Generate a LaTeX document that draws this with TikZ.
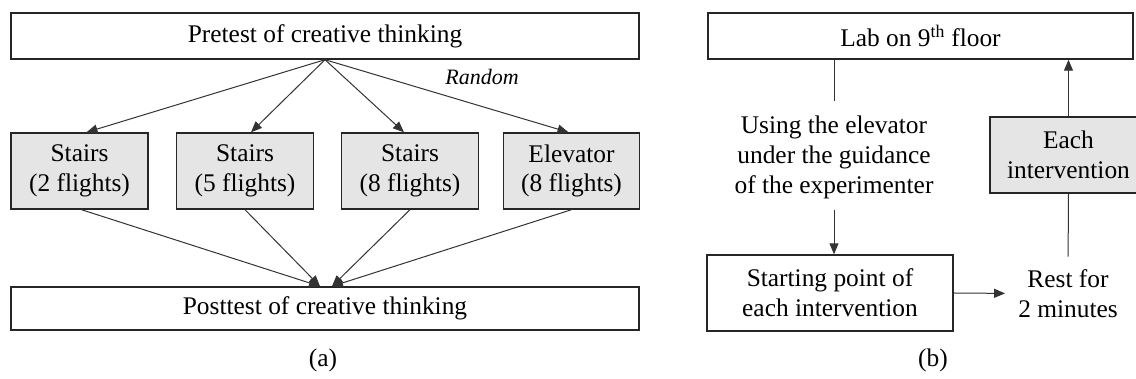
\documentclass[tikz,border=0pt]{standalone}
\usepackage{fontspec}
\setmainfont{Liberation Serif}
\usetikzlibrary{arrows.meta,calc}
\begin{document}
\begin{tikzpicture}[x=1pt,y=1pt,
  box/.style={draw=black!85, line width=1.4pt, rectangle, inner sep=0pt, align=center, font=\fontsize{25.4}{29.8}\selectfont},
  greybox/.style={box, fill=black!10},
  txt/.style={inner sep=0pt, align=center, font=\fontsize{25.4}{29.8}\selectfont},
  conn/.style={draw=black!80, line width=1pt},
  arr/.style={conn, -{Triangle[length=11pt,width=9pt]}}]
\useasboundingbox (0,0) rectangle (1136,379);
% ---------- panel (a)
\node[box, minimum width=628pt, minimum height=46pt] (pre) at (325,343) {Pretest of creative thinking};
\node[greybox, minimum width=137pt, minimum height=76pt] (s1) at (79.5,208) {Stairs\\(2 flights)};
\node[greybox, minimum width=137pt, minimum height=76pt] (s2) at (245,208) {Stairs\\(5 flights)};
\node[greybox, minimum width=137pt, minimum height=76pt] (s3) at (410,208) {Stairs\\(8 flights)};
\node[greybox, minimum width=136pt, minimum height=76pt] (s4) at (571.5,208) {Elevator\\(8 flights)};
\node[box, minimum width=628pt, minimum height=43pt] (post) at (325,70.5) {Posttest of creative thinking};
\node[txt] (la) at (323,19) {(a)};
\node[inner sep=0pt, anchor=base, font=\fontsize{22}{26}\selectfont\itshape] (rnd) at (482,294) {Random};
\draw[arr] (pre.south) -- ($(s1.north)+(7,0)$);
\draw[arr] (pre.south) -- ($(s2.north)+(6,0)$);
\draw[arr] (pre.south) -- ($(s3.north)+(-6,0)$);
\draw[arr] (pre.south) -- ($(s4.north)+(-3,0)$);
\draw[arr] ($(s1.south)+(2,0)$) -- ($(post.north)+(-5,0)$);
\draw[arr] (s2.south) -- ($(post.north)+(-5,0)$);
\draw[arr] (s3.south) -- ($(post.north)+(7,0)$);
\draw[arr] (s4.south) -- ($(post.north)+(7,0)$);
% ---------- panel (b)
\node[box, minimum width=425pt, minimum height=46pt] (lab) at (920.5,343) {Lab on 9\textsuperscript{th} floor};
\node[txt] (use) at (834,221.4) {Using the elevator\\under the guidance\\of the experimenter};
\node[box, minimum width=246pt, minimum height=76pt] (start) at (830,86) {Starting point of\\each intervention};
\node[txt] (rest) at (1068,85.6) {Rest for\\2 minutes};
\node[greybox, minimum width=157pt, minimum height=76pt] (each) at (1068.5,224) {Each\\intervention};
\node[txt] (lb) at (933,19) {(b)};
\draw[conn, shorten >=14.7pt] (use.north |- lab.south) -- (use.north);
\draw[arr, shorten <=10.5pt] (use.south) -- (use.south |- start.north);
\draw[arr] (start.east) -- ($(rest.west)+(-13,0)$);
\draw[conn, shorten >=12.7pt] (each.south) -- (rest.north);
\draw[arr] (each.north) -- (each.north |- lab.south);
\end{tikzpicture}
\end{document}
